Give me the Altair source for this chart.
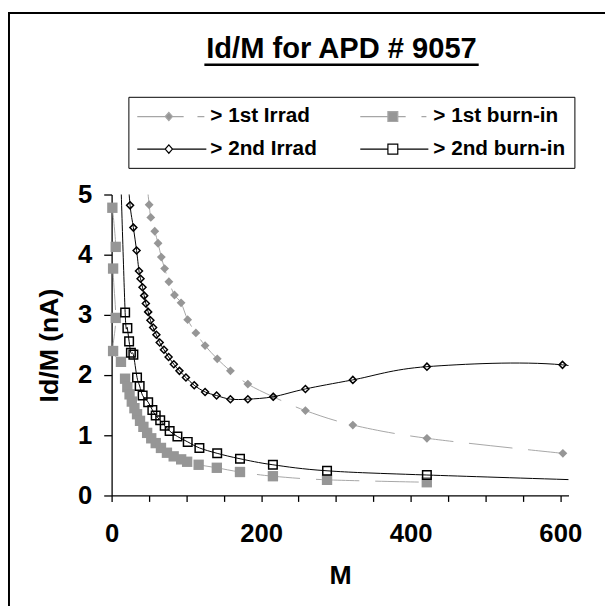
import altair as alt
import pandas as pd

FONT = "Liberation Sans"
title_text = "Id/M for APD # 9057"
series_names = ["> 1st Irrad", "> 1st burn-in", "> 2nd Irrad", "> 2nd burn-in"]

# 1st irradiation (grey diamonds, dashed grey line)
irr1_m = [50.2, 52.4, 57.7, 62.1, 66.5, 70.9, 76.6, 84.1, 92.9, 101.7, 112.7, 125.0,
          141.3, 158.9, 182.2, 216.0, 259.2, 322.6, 421.7, 603.5]
irr1_v = [4.83, 4.62, 4.39, 4.19, 3.96, 3.77, 3.55, 3.33, 3.20, 2.92, 2.70, 2.49,
          2.27, 2.07, 1.85, 1.64, 1.41, 1.17, 0.95, 0.70]
irr1_lead_m, irr1_lead_v = [46.0], [5.35]

# 1st burn-in (grey squares, dashed grey line)
bi1_m = [1.0, 5.5, 2.0, 5.5, 2.0, 12.5, 18.0, 21.0, 24.0, 27.0, 30.5, 34.0, 38.0, 42.5,
         47.5, 53.0, 59.0, 66.0, 74.0, 83.0, 93.0, 101.0, 116.4, 140.7, 171.7, 215.7,
         288.1, 421.5]
bi1_v = [4.78, 4.13, 3.77, 2.95, 2.40, 2.22, 1.94, 1.80, 1.68, 1.56, 1.45, 1.35, 1.24, 1.14,
         1.04, 0.95, 0.87, 0.79, 0.71, 0.65, 0.60, 0.56, 0.51, 0.46, 0.39, 0.32,
         0.26, 0.22]

# 2nd irradiation (open diamonds, solid black line)
irr2_m = [24.7, 29.1, 33.4, 36.6, 38.7, 41.3, 43.6, 45.8, 48.9, 51.9, 55.5, 59.9, 64.3,
          70.0, 76.2, 83.2, 90.7, 99.4, 110.5, 125.0, 140.4, 158.9, 182.2, 216.2, 259.2,
          322.6, 421.7, 603.0]
irr2_v = [4.82, 4.45, 4.07, 3.73, 3.60, 3.46, 3.32, 3.19, 3.05, 2.91, 2.79, 2.67, 2.54,
          2.42, 2.30, 2.18, 2.07, 1.96, 1.83, 1.72, 1.66, 1.60, 1.60, 1.64, 1.77,
          1.92, 2.14, 2.17]
irr2_lead_m, irr2_lead_v = [21.0], [5.45]
irr2_tail_m, irr2_tail_v = [760.0], [1.75]

# 2nd burn-in (open squares, solid black line)
bi2_m = [18.1, 21.1, 23.4, 25.8, 29.1, 34.0, 37.5, 41.5, 48.9, 54.5, 59.0, 65.0, 71.0,
         77.6, 88.0, 101.8, 117.4, 141.2, 171.7, 215.7, 288.1, 421.6]
bi2_v = [3.04, 2.78, 2.56, 2.37, 2.34, 1.96, 1.82, 1.66, 1.55, 1.42, 1.33, 1.25, 1.16,
         1.07, 0.98, 0.89, 0.79, 0.70, 0.61, 0.51, 0.41, 0.34]
bi2_lead_m, bi2_lead_v = [11.5], [5.6]
bi2_tail_m, bi2_tail_v = [800.0], [0.19]

x_ticks = [0, 50, 100, 150, 200, 250, 300, 350, 400, 450, 500, 550, 600]
y_ticks = [0, 1, 2, 3, 4, 5]

GREY_LINE = "#a6a6a6"
GREY_MARK = "#969696"

# legend keys: line sample with marker (unit = 10 px)
legend_paths = [
    "M-3.5,0H-0.67M0.07,0H1.2M2.6,0H3.3M-0.3,-0.42L0.07,0L-0.3,0.42L-0.67,0Z",
    "M-3.5,0H-0.7M0.3,0H1.1M2.7,0H3.2M-0.7,-0.5H0.3V0.5H-0.7Z",
    "M-3.5,0H-0.67M0.07,0H3.5M-0.3,-0.42L0.07,0L-0.3,0.42L-0.67,0Z",
    "M-3.5,0H-0.7M0.3,0H3.4M-0.7,-0.5H0.3V0.5H-0.7Z",
]
legend_fills = [GREY_MARK, GREY_MARK, "white", "white"]
legend_strokes = [GREY_LINE, GREY_LINE, "black", "black"]


def df(m, v):
    return pd.DataFrame({"M": m, "IdM": v})


X = alt.X("M:Q", title="M",
          scale=alt.Scale(domain=[0, 611], nice=False, zero=False),
          axis=alt.Axis(values=x_ticks, labelExpr="datum.value % 200 === 0 ? datum.label : ''",
                        tickSize=6, labelPadding=20, titlePadding=16, labelFlush=False,
                        labelOverlap=False))
Y = alt.Y("IdM:Q", title="Id/M (nA)",
          scale=alt.Scale(domain=[0, 5], nice=False),
          axis=alt.Axis(values=y_ticks, tickSize=8, labelPadding=12, titlePadding=14,
                        labelFlush=False))

dash = [44, 16]

line_irr1 = alt.Chart(df(irr1_lead_m + irr1_m, irr1_lead_v + irr1_v)).mark_line(
    interpolate="cardinal", clip=True, color=GREY_LINE, strokeWidth=1, strokeDash=dash
).encode(x=X, y=Y, order="M:Q")
line_bi1 = alt.Chart(df(bi1_m, bi1_v).reset_index()).mark_line(
    interpolate="cardinal", clip=True, color=GREY_LINE, strokeWidth=1, strokeDash=dash
).encode(x=X, y=Y, order="index:Q")
line_irr2 = alt.Chart(df(irr2_lead_m + irr2_m + irr2_tail_m, irr2_lead_v + irr2_v + irr2_tail_v)).mark_line(
    interpolate="cardinal", clip=True, color="black", strokeWidth=1
).encode(x=X, y=Y, order="M:Q")
line_bi2 = alt.Chart(df(bi2_lead_m + bi2_m + bi2_tail_m, bi2_lead_v + bi2_v + bi2_tail_v).reset_index()).mark_line(
    interpolate="cardinal", clip=True, color="black", strokeWidth=1
).encode(x=X, y=Y, order="index:Q")

pts_irr1 = alt.Chart(df(irr1_m, irr1_v)).mark_point(
    shape="diamond", filled=True, color=GREY_MARK, size=80, opacity=1, strokeWidth=0
).encode(x=X, y=Y)
pts_bi1 = alt.Chart(df(bi1_m, bi1_v)).mark_point(
    shape="square", filled=True, color=GREY_MARK, size=110, opacity=1, strokeWidth=0
).encode(x=X, y=Y)
pts_irr2 = alt.Chart(df(irr2_m, irr2_v)).mark_point(
    shape="diamond", filled=False, color="black", size=50, opacity=1, strokeWidth=1.5
).encode(x=X, y=Y)
pts_bi2 = alt.Chart(df(bi2_m, bi2_v)).mark_point(
    shape="square", filled=False, color="black", size=75, opacity=1, strokeWidth=1.5
).encode(x=X, y=Y)

leg = alt.Legend(
    orient="none", legendX=17, legendY=-99, direction="horizontal", columns=2,
    columnPadding=41, rowPadding=12,
    padding=9, strokeColor="black", fillColor="white", title=None,
    symbolSize=400, symbolStrokeWidth=1.2, symbolOpacity=1, symbolOffset=24,
    labelFont=FONT, labelFontSize=21, labelFontWeight="bold", labelColor="black",
    labelOffset=28, labelLimit=400,
)
legend_layer = alt.Chart(pd.DataFrame({"series": series_names})).transform_filter(
    "false"
).mark_point(filled=True, opacity=1).encode(
    shape=alt.Shape("series:N", scale=alt.Scale(domain=series_names, range=legend_paths), legend=leg),
    fill=alt.Fill("series:N", scale=alt.Scale(domain=series_names, range=legend_fills), legend=leg),
    stroke=alt.Stroke("series:N", scale=alt.Scale(domain=series_names, range=legend_strokes), legend=leg),
)

one = pd.DataFrame({"t": [title_text]})
title_mark = alt.Chart(one).mark_text(
    font=FONT, fontSize=29.5, fontWeight="bold", align="center", baseline="alphabetic", color="black"
).encode(text="t:N", x=alt.value(233), y=alt.value(-138))
underline = alt.Chart(one).mark_rule(color="black", strokeWidth=2.6).encode(
    x=alt.value(94), x2=alt.value(372), y=alt.value(-131.5))
# chart-area border: only its left and top edges fall inside the picture
frame = alt.Chart(one).mark_rect(filled=False, stroke="black", strokeWidth=2, clip=False).encode(
    x=alt.value(-104), x2=alt.value(520), y=alt.value(-184), y2=alt.value(430))

chart = alt.layer(
    frame, line_irr1, line_bi1, pts_irr1, pts_bi1, line_irr2, line_bi2, pts_irr2, pts_bi2,
    legend_layer, title_mark, underline
).properties(
    width=463, height=305,
    autosize=alt.AutoSizeParams(type="none"),
    padding={"left": 105, "top": 185, "right": 37, "bottom": 108},
).configure_view(stroke=None).configure_axis(
    grid=False, domainColor="black", domainWidth=1.3, tickColor="black", tickWidth=1.3,
    labelFont=FONT, labelFontSize=26, labelFontWeight="bold", labelColor="black",
    titleFont=FONT, titleFontSize=27, titleFontWeight="bold", titleColor="black",
)

chart.save("out.html", embed_options={"renderer": "svg", "actions": False})
